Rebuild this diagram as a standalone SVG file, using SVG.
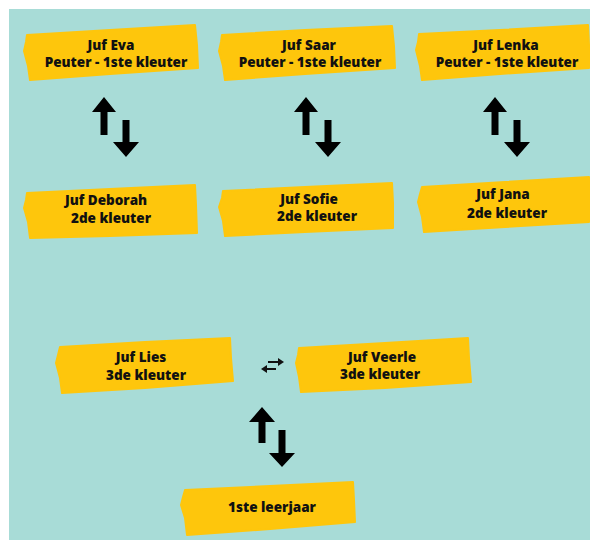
<svg xmlns="http://www.w3.org/2000/svg" xmlns:xlink="http://www.w3.org/1999/xlink" width="590" height="540" viewBox="0 0 590 540">
<style>
.box{fill:#FEC60C;stroke:#FEC60C;stroke-width:2;stroke-linejoin:round}
.t{font-family:"Open Sans","Noto Sans","Liberation Sans",sans-serif;font-weight:800;font-size:13.5px;fill:#111;text-anchor:middle}
.arr{fill:#000}
.sm{stroke:#111;stroke-width:2;fill:none}
.smh{fill:#111}
</style>
<defs>
<path id="upT" d="M0,0 L12,15 L3.5,15 L3.5,38 L-3.5,38 L-3.5,15 L-12,15 Z"/>
<path id="dnT" d="M0,0 L-13,-15 L-3.5,-15 L-3.5,-37 L3.5,-37 L3.5,-15 L13,-15 Z"/>
<path id="upB" d="M0,0 L13,15 L3.5,15 L3.5,36 L-3.5,36 L-3.5,15 L-13,15 Z"/>
<path id="dnB" d="M0,0 L-13,-14 L-3.5,-14 L-3.5,-37 L3.5,-37 L3.5,-14 L13,-14 Z"/>
</defs>
<rect x="0" y="0" width="590" height="540" fill="#ffffff"/>
<rect x="9" y="9" width="581" height="531" fill="#A8DCD7"/>

<g id="eva">
<path class="box" d="M27,35 L110,30 L195,25 L197,45 L198,68 L110,74 L30,80 L28,66 L24,51 L26,42 Z"/>
<text class="t" x="111" y="50">Juf Eva</text>
<text class="t" x="116" y="67">Peuter - 1ste kleuter</text>
</g>
<g id="saar">
<path class="box" d="M222,35 L305,30 L392,26 L394,46 L395,68 L305,74 L225,80 L223,66 L219,51 L221,42 Z"/>
<text class="t" x="309" y="50">Juf Saar</text>
<text class="t" x="310" y="67">Peuter - 1ste kleuter</text>
</g>
<g id="lenka">
<path class="box" d="M419,34 L500,30 L588,25 L589,45 L589,68 L500,74 L422,80 L420,66 L416,50 L418,42 Z"/>
<text class="t" x="506" y="50">Juf Lenka</text>
<text class="t" x="507" y="67">Peuter - 1ste kleuter</text>
</g>
<g id="deborah">
<path class="box" d="M27,193 L110,189 L195,185 L196,205 L197,233 L110,236 L30,238 L28,222 L24,208 L26,200 Z"/>
<text class="t" x="106" y="205">Juf Deborah</text>
<text class="t" x="111" y="223">2de kleuter</text>
</g>
<g id="sofie">
<path class="box" d="M223,191 L305,187 L392,183 L393,203 L393,228 L305,232 L225,236 L223,221 L219,207 L222,198 Z"/>
<text class="t" x="309" y="204">Juf Sofie</text>
<text class="t" x="317" y="221">2de kleuter</text>
</g>
<g id="jana">
<path class="box" d="M422,187 L505,182 L589,177 L589,198 L589,222 L505,227 L424,232 L422,217 L418,202 L420,194 Z"/>
<text class="t" x="503" y="199">Juf Jana</text>
<text class="t" x="507" y="218">2de kleuter</text>
</g>
<g id="lies">
<path class="box" d="M60,347 L145,342 L230,338 L231,358 L233,381 L145,388 L62,393 L60,378 L56,363 L58,355 Z"/>
<text class="t" x="141" y="362">Juf Lies</text>
<text class="t" x="146" y="380">3de kleuter</text>
</g>
<g id="veerle">
<path class="box" d="M299,348 L385,343 L468,338 L469,358 L471,382 L385,388 L301,392 L299,377 L296,363 L298,355 Z"/>
<text class="t" x="382" y="362">Juf Veerle</text>
<text class="t" x="380" y="379">3de kleuter</text>
</g>
<g id="leerjaar">
<path class="box" d="M185,490 L270,486 L353,482 L354,500 L355,522 L270,529 L187,535 L185,518 L181,505 L183,497 Z"/>
<text class="t" x="272" y="512">1ste leerjaar</text>
</g>

<g id="connectors">
<use xlink:href="#upT" class="arr" x="104" y="97"/>
<use xlink:href="#dnT" class="arr" x="126" y="157"/>
<use xlink:href="#upT" class="arr" x="306" y="97"/>
<use xlink:href="#dnT" class="arr" x="328" y="157"/>
<use xlink:href="#upT" class="arr" x="495" y="97"/>
<use xlink:href="#dnT" class="arr" x="517" y="157"/>
<use xlink:href="#upB" class="arr" x="262" y="407"/>
<use xlink:href="#dnB" class="arr" x="282" y="467"/>
<path class="sm" d="M268,362 L279,362"/>
<path class="smh" d="M284,362 L278,358 L278,366 Z"/>
<path class="sm" d="M276,369 L266,369"/>
<path class="smh" d="M261,369 L267,365 L267,373 Z"/>
</g>
</svg>
